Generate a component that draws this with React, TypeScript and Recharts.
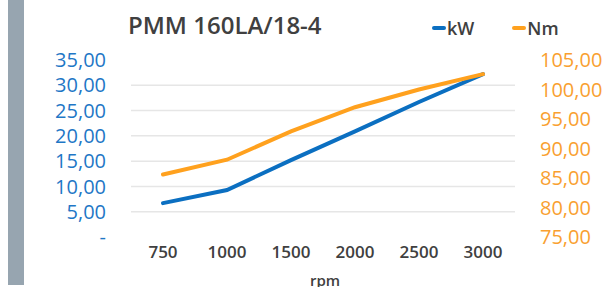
import React from "react";
import { LineChart, Line, XAxis, YAxis, ReferenceLine } from "recharts";

const categories = ["750", "1000", "1500", "2000", "2500", "3000"];
const kW = [6.7, 9.3, 15.2, 20.9, 26.7, 32.2];
const Nm = [85.6, 88.1, 92.9, 97.0, 100.0, 102.6];
const leftTicks = [0, 5, 10, 15, 20, 25, 30, 35];
const rightTicks = [75, 80, 85, 90, 95, 100, 105];
const gridValues = [5, 10, 15, 20, 25, 30];

const data = categories.map((c, i) => ({ rpm: c, kW: kW[i], Nm: Nm[i] }));

const BLUE = "#0b6fc1";
const ORANGE = "#ffa11e";
const TEXT = "#404040";
const FONT = "'Open Sans', sans-serif";

const fmt = (v: number) => (v === 0 ? "-" : v.toFixed(2).replace(".", ","));

const series = [
  { name: "kW", color: BLUE },
  { name: "Nm", color: ORANGE },
];

const LegendBox = () => (
  <div
    style={{
      position: "absolute",
      left: 432,
      top: 15,
      display: "flex",
      fontFamily: FONT,
      fontSize: 18,
      fontWeight: 600,
      color: TEXT,
      alignItems: "center",
      lineHeight: "26px",
    }}
  >
    {series.map((s, i) => (
      <div key={s.name} style={{ display: "flex", alignItems: "center", marginRight: i === 0 ? 38 : 0 }}>
        <div style={{ width: 14, height: 4, background: s.color, borderRadius: 2, marginRight: 1 }} />
        <span>{s.name}</span>
      </div>
    ))}
  </div>
);

export default function App() {
  return (
    <div style={{ position: "fixed", left: 0, top: 0, width: 610, height: 287, background: "#fff", overflow: "hidden" }}>
      <div style={{ position: "absolute", left: 8, top: 0, width: 16, height: 285, background: "#97a5b0" }} />
      <div
        style={{
          position: "absolute",
          left: 128,
          top: 9,
          fontFamily: FONT,
          fontSize: 24,
          fontWeight: 600,
          color: TEXT,
          lineHeight: "32px",
          whiteSpace: "nowrap",
        }}
      >
        PMM 160LA/18-4
      </div>
      <LegendBox />
      <div
        style={{
          position: "absolute",
          left: 310,
          top: 270,
          fontFamily: FONT,
          fontSize: 15,
          fontWeight: 600,
          color: TEXT,
          lineHeight: "20px",
        }}
      >
        rpm
      </div>
      <div style={{ position: "absolute", left: 0, top: 0 }}>
        <LineChart width={610} height={287} data={data} margin={{ top: 60, right: 0, bottom: 0, left: 0 }}>
          {gridValues.map((g) => (
            <ReferenceLine key={g} yAxisId="left" y={g} stroke="#e6e6e6" strokeWidth={1.5} />
          ))}
          <XAxis
            dataKey="rpm"
            axisLine={false}
            tickLine={false}
            tickSize={0}
            tickMargin={9}
            height={50}
            padding={{ left: 32, right: 32 }}
            tick={{ fill: TEXT, fontSize: 17, fontFamily: FONT, fontWeight: 600 }}
            interval={0}
          />
          <YAxis
            yAxisId="left"
            orientation="left"
            width={131}
            domain={[0, 35]}
            ticks={leftTicks}
            tickFormatter={fmt}
            axisLine={false}
            tickLine={false}
            tickSize={0}
            tickMargin={25}
            interval={0}
            tick={{ fill: "#1f77c6", fontSize: 20, fontFamily: FONT, fontWeight: 500 }}
          />
          <YAxis
            yAxisId="right"
            orientation="right"
            width={95}
            domain={[75, 105]}
            ticks={rightTicks}
            tickFormatter={fmt}
            axisLine={false}
            tickLine={false}
            tickSize={0}
            tickMargin={25}
            interval={0}
            tick={{ fill: "#f9a030", fontSize: 20, fontFamily: FONT, fontWeight: 500 }}
          />
          <Line
            yAxisId="left"
            dataKey="kW"
            stroke={BLUE}
            strokeWidth={4}
            dot={false}
            type="linear"
            isAnimationActive={false}
            strokeLinecap="round"
          />
          <Line
            yAxisId="right"
            dataKey="Nm"
            stroke={ORANGE}
            strokeWidth={4}
            dot={false}
            type="linear"
            isAnimationActive={false}
            strokeLinecap="round"
          />
        </LineChart>
      </div>
    </div>
  );
}
